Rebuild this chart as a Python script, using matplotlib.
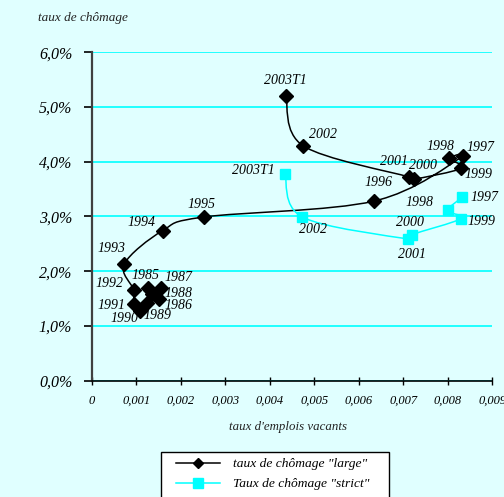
import matplotlib
matplotlib.use("Agg")
import matplotlib.pyplot as plt
from matplotlib.path import Path
from matplotlib.patches import PathPatch, Rectangle
from matplotlib.ticker import FuncFormatter, MultipleLocator
from matplotlib.lines import Line2D

# Unemployment rate vs. job vacancy rate (Beveridge curve)
years_large = ["1985", "1986", "1987", "1988", "1989", "1990", "1991", "1992",
               "1993", "1994", "1995", "1996", "1997", "1998", "1999", "2000",
               "2001", "2002", "2003T1"]
vacancy_large = [0.00126, 0.00150, 0.00155, 0.00135, 0.00124, 0.00109, 0.00094,
                 0.00094, 0.00073, 0.00159, 0.00252, 0.00634, 0.00834, 0.00802,
                 0.00830, 0.00723, 0.00713, 0.00475, 0.00436]
unemp_large = [1.69, 1.49, 1.70, 1.58, 1.42, 1.28, 1.40, 1.66, 2.13, 2.74, 2.99,
               3.28, 4.10, 4.06, 3.88, 3.68, 3.72, 4.29, 5.20]

years_strict = ["1997", "1998", "1999", "2000", "2001", "2002", "2003T1"]
vacancy_strict = [0.00832, 0.00800, 0.00829, 0.00720, 0.00710, 0.00473, 0.00434]
unemp_strict = [3.35, 3.11, 2.96, 2.67, 2.59, 2.99, 3.78]

# label offsets (pixels) for each point
off_large = [(-2, 13), (20, -6), (18, 10), (27, 1), (11, -13), (-16, -8),
             (-22, -1), (-24, 6), (-13, 16), (-21, 8), (-2, 12), (5, 19),
             (17, 9), (-8, 12), (17, -6), (9, 14), (-15, 16), (20, 11), (0, 15)]
off_strict = [(22, 0), (-28, 8), (21, -3), (-2, 12), (4, -16), (11, -13), (-32, 3)]

BG = "#E0FFFF"
CYAN = "#00FFFF"
FONT = "Liberation Serif"
W, H = 504, 497

fig = plt.figure(figsize=(W / 100, H / 100), dpi=100, facecolor=BG)
ax = fig.add_axes([0.182, 0.234, 0.795, 0.661])
ax.set_facecolor(BG)
ax.set_xlim(0, 0.009)
ax.set_ylim(0, 6.0)


def smooth_path(xs, ys):
    """Catmull-Rom style Bezier path through the points."""
    pts = list(zip(xs, ys))
    n = len(pts)
    verts = [pts[0]]
    codes = [Path.MOVETO]
    for i in range(n - 1):
        p0 = pts[i - 1] if i > 0 else pts[i]
        p1 = pts[i]
        p2 = pts[i + 1]
        p3 = pts[i + 2] if i + 2 < n else pts[i + 1]
        c1 = (p1[0] + (p2[0] - p0[0]) / 6, p1[1] + (p2[1] - p0[1]) / 6)
        c2 = (p2[0] - (p3[0] - p1[0]) / 6, p2[1] - (p3[1] - p1[1]) / 6)
        verts += [c1, c2, p2]
        codes += [Path.CURVE4] * 3
    return Path(verts, codes)


ax.add_patch(PathPatch(smooth_path(vacancy_large, unemp_large), fill=False,
                       edgecolor="black", lw=1.1, zorder=3))
ax.add_patch(PathPatch(smooth_path(vacancy_strict, unemp_strict), fill=False,
                       edgecolor=CYAN, lw=1.1, zorder=3))
ax.plot(vacancy_large, unemp_large, ls="none", marker="D", ms=7,
        color="black", zorder=4)
ax.plot(vacancy_strict, unemp_strict, ls="none", marker="s", ms=7.5,
        color=CYAN, zorder=4)

lab_kw = dict(textcoords="offset pixels", ha="center", va="center",
              fontsize=10, style="italic", family=FONT, zorder=5)
for x, y, t, o in zip(vacancy_large, unemp_large, years_large, off_large):
    ax.annotate(t, (x, y), xytext=o, **lab_kw)
for x, y, t, o in zip(vacancy_strict, unemp_strict, years_strict, off_strict):
    ax.annotate(t, (x, y), xytext=o, **lab_kw)

# grid and axes
ax.yaxis.set_major_locator(MultipleLocator(1.0))
ax.xaxis.set_major_locator(MultipleLocator(0.001))
ax.grid(axis="y", color=CYAN, lw=1.2)
ax.set_axisbelow(True)
for s in ("top", "right"):
    ax.spines[s].set_visible(False)
ax.spines["left"].set_color("#404040")
ax.spines["left"].set_linewidth(1.6)
ax.spines["bottom"].set_color("black")
ax.spines["bottom"].set_linewidth(1.2)

ax.yaxis.set_major_formatter(FuncFormatter(lambda v, p: f"{v:.1f}%".replace(".", ",")))


def xfmt(v, p):
    if abs(v) < 1e-12:
        return "0"
    return f"{v:.3f}".replace(".", ",")


ax.xaxis.set_major_formatter(FuncFormatter(xfmt))
ax.tick_params(axis="y", direction="out", length=6, width=1.2, color="black",
               pad=8, labelsize=11.5)
ax.tick_params(axis="x", direction="inout", length=6, width=1.0, color="black",
               pad=7, labelsize=9)
for lbl in ax.get_yticklabels() + ax.get_xticklabels():
    lbl.set_fontfamily(FONT)
    lbl.set_fontstyle("italic")

fig.text(38 / W, 1 - 18 / H, "taux de chômage", fontsize=9.5, style="italic",
         family=FONT, ha="left", va="center", color="#222222")
fig.text(288 / W, 1 - 427 / H, "taux d'emplois vacants", fontsize=9.3,
         style="italic", family=FONT, ha="center", va="center", color="#222222")

# legend box, running off the bottom edge
fig.patches.append(Rectangle((161 / W, -0.05), (389 - 161) / W,
                             (H - 452) / H + 0.05, transform=fig.transFigure,
                             facecolor="white", edgecolor="black", lw=1.0,
                             zorder=1))
handles = [
    Line2D([], [], color="black", marker="D", ms=5, lw=1.1),
    Line2D([], [], color=CYAN, marker="s", ms=6.5, lw=1.1),
]
leg = fig.legend(handles, ['taux de chômage "large"', 'Taux de chômage "strict"'],
                 loc="upper left", bbox_to_anchor=(176 / W, 1 - 458 / H),
                 frameon=False,
                 prop=dict(family=FONT, style="italic", size=9.7),
                 handlelength=3.3, borderpad=0.0, labelspacing=0.55,
                 handletextpad=0.9, borderaxespad=0)
leg.set_zorder(2)

fig.savefig("out.png", dpi=100, facecolor=BG)
